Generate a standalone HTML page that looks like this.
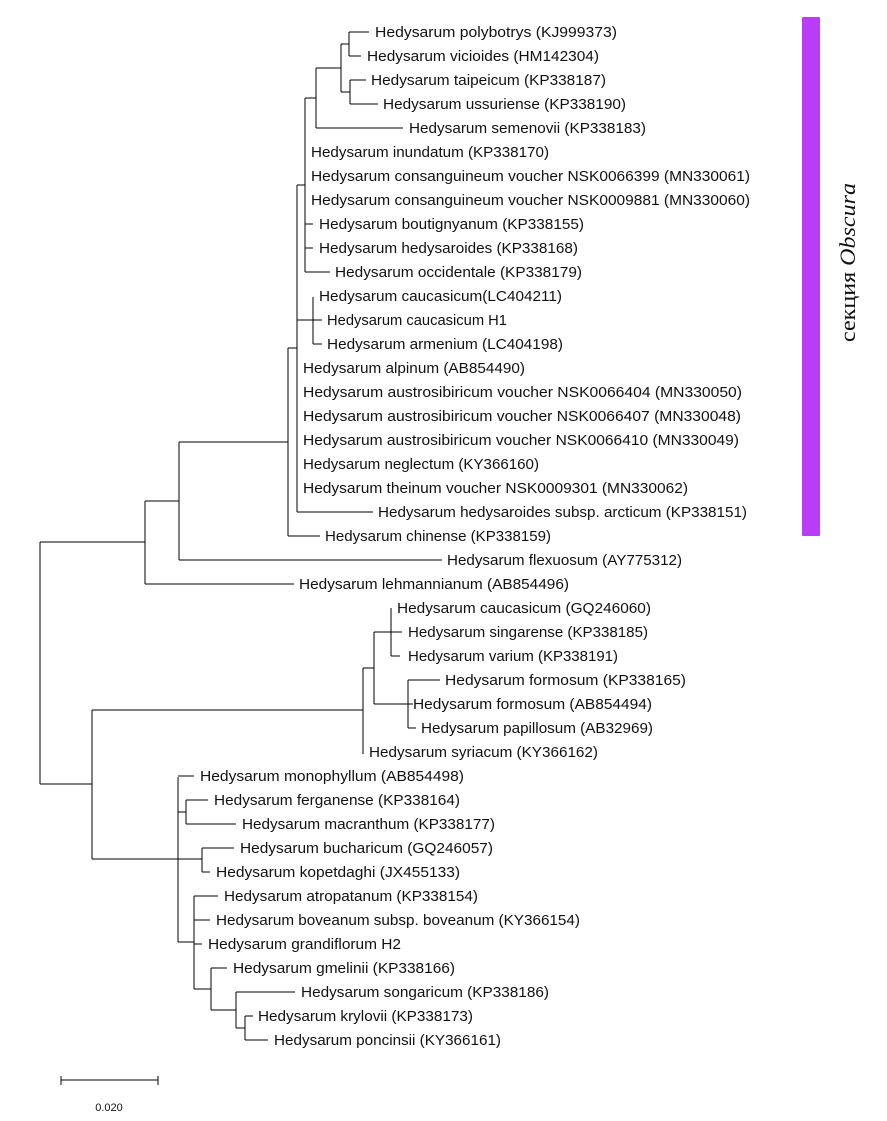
<!DOCTYPE html>
<html><head><meta charset="utf-8"><style>
html,body{margin:0;padding:0;background:#fff;}
svg{display:block;}
text{font-family:"Liberation Sans",Arial,sans-serif;font-size:14.5px;fill:#111;}
</style></head><body>
<svg width="887" height="1121" viewBox="0 0 887 1121" xmlns="http://www.w3.org/2000/svg">
<g stroke="#000" stroke-width="1.2" fill="none" shape-rendering="crispEdges">
<path d="M349 32V56M349 32H369M349 56H361"/>
<path d="M350 80V104M350 80H366M350 104H378"/>
<path d="M341 44V92M341 44H349M341 92H350"/>
<path d="M316 68V128M316 68H341M316 128H403"/>
<path d="M305 98V272M305 98H316M305 224H313M305 248H313M305 272H330"/>
<path d="M313 297V344M313 320H322M313 344H322"/>
<path d="M297 185V512M297 185H305M297 320H313M297 512H373"/>
<path d="M288 348V536M288 348H297M288 536H320"/>
<path d="M179 442V560M179 442H288M179 560H442"/>
<path d="M145 501V584M145 501H179M145 584H294"/>
<path d="M40 542V784M40 542H145M40 784H92"/>
<path d="M92 710V859M92 710H363"/>
<path d="M363 668V754M363 668H374"/>
<path d="M374 632V704M374 632H391M374 704H408"/>
<path d="M391 608V656M391 632H402M391 656H400"/>
<path d="M408 680V728M408 680H440M408 704H413M408 728H416"/>
<path d="M92 859H178M178 777V942M178 776H194M178 812H186M178 859H202M178 942H194"/>
<path d="M186 800V824M186 800H208M186 824H236"/>
<path d="M202 848V872M202 848H234M202 872H210"/>
<path d="M194 896V989M194 896H218M194 920H210M194 944H202M194 989H211"/>
<path d="M211 968V1010M211 968H227M211 1010H236"/>
<path d="M236 992V1028M236 992H295M236 1028H245"/>
<path d="M245 1016V1040M245 1016H253M245 1040H268"/>
<path d="M61 1080H158M61 1076V1085M158 1076V1085"/>
</g>
<g>
<text x="375" y="37" textLength="242" lengthAdjust="spacingAndGlyphs">Hedysarum polybotrys (KJ999373)</text>
<text x="367" y="61" textLength="232" lengthAdjust="spacingAndGlyphs">Hedysarum vicioides (HM142304)</text>
<text x="371" y="85" textLength="235" lengthAdjust="spacingAndGlyphs">Hedysarum taipeicum (KP338187)</text>
<text x="383" y="109" textLength="243" lengthAdjust="spacingAndGlyphs">Hedysarum ussuriense (KP338190)</text>
<text x="409" y="133" textLength="237" lengthAdjust="spacingAndGlyphs">Hedysarum semenovii (KP338183)</text>
<text x="311" y="157" textLength="238" lengthAdjust="spacingAndGlyphs">Hedysarum inundatum (KP338170)</text>
<text x="311" y="181" textLength="439" lengthAdjust="spacingAndGlyphs">Hedysarum consanguineum voucher NSK0066399 (MN330061)</text>
<text x="311" y="205" textLength="439" lengthAdjust="spacingAndGlyphs">Hedysarum consanguineum voucher NSK0009881 (MN330060)</text>
<text x="319" y="229" textLength="265" lengthAdjust="spacingAndGlyphs">Hedysarum boutignyanum (KP338155)</text>
<text x="319" y="253" textLength="259" lengthAdjust="spacingAndGlyphs">Hedysarum hedysaroides (KP338168)</text>
<text x="335" y="277" textLength="247" lengthAdjust="spacingAndGlyphs">Hedysarum occidentale (KP338179)</text>
<text x="319" y="301" textLength="243" lengthAdjust="spacingAndGlyphs">Hedysarum caucasicum(LC404211)</text>
<text x="327" y="325" textLength="180" lengthAdjust="spacingAndGlyphs">Hedysarum caucasicum H1</text>
<text x="327" y="349" textLength="236" lengthAdjust="spacingAndGlyphs">Hedysarum armenium (LC404198)</text>
<text x="303" y="373" textLength="222" lengthAdjust="spacingAndGlyphs">Hedysarum alpinum (AB854490)</text>
<text x="303" y="397" textLength="439" lengthAdjust="spacingAndGlyphs">Hedysarum austrosibiricum voucher NSK0066404 (MN330050)</text>
<text x="303" y="421" textLength="438" lengthAdjust="spacingAndGlyphs">Hedysarum austrosibiricum voucher NSK0066407 (MN330048)</text>
<text x="303" y="445" textLength="436" lengthAdjust="spacingAndGlyphs">Hedysarum austrosibiricum voucher NSK0066410 (MN330049)</text>
<text x="303" y="469" textLength="236" lengthAdjust="spacingAndGlyphs">Hedysarum neglectum (KY366160)</text>
<text x="303" y="493" textLength="385" lengthAdjust="spacingAndGlyphs">Hedysarum theinum voucher NSK0009301 (MN330062)</text>
<text x="378" y="517" textLength="369" lengthAdjust="spacingAndGlyphs">Hedysarum hedysaroides subsp. arcticum (KP338151)</text>
<text x="325" y="541" textLength="226" lengthAdjust="spacingAndGlyphs">Hedysarum chinense (KP338159)</text>
<text x="447" y="565" textLength="235" lengthAdjust="spacingAndGlyphs">Hedysarum flexuosum (AY775312)</text>
<text x="299" y="589" textLength="270" lengthAdjust="spacingAndGlyphs">Hedysarum lehmannianum (AB854496)</text>
<text x="397" y="613" textLength="254" lengthAdjust="spacingAndGlyphs">Hedysarum caucasicum (GQ246060)</text>
<text x="408" y="637" textLength="240" lengthAdjust="spacingAndGlyphs">Hedysarum singarense (KP338185)</text>
<text x="408" y="661" textLength="210" lengthAdjust="spacingAndGlyphs">Hedysarum varium (KP338191)</text>
<text x="445" y="685" textLength="241" lengthAdjust="spacingAndGlyphs">Hedysarum formosum (KP338165)</text>
<text x="413" y="709" textLength="239" lengthAdjust="spacingAndGlyphs">Hedysarum formosum (AB854494)</text>
<text x="421" y="733" textLength="232" lengthAdjust="spacingAndGlyphs">Hedysarum papillosum (AB32969)</text>
<text x="369" y="757" textLength="229" lengthAdjust="spacingAndGlyphs">Hedysarum syriacum (KY366162)</text>
<text x="200" y="781" textLength="264" lengthAdjust="spacingAndGlyphs">Hedysarum monophyllum (AB854498)</text>
<text x="214" y="805" textLength="246" lengthAdjust="spacingAndGlyphs">Hedysarum ferganense (KP338164)</text>
<text x="242" y="829" textLength="253" lengthAdjust="spacingAndGlyphs">Hedysarum macranthum (KP338177)</text>
<text x="240" y="853" textLength="253" lengthAdjust="spacingAndGlyphs">Hedysarum bucharicum (GQ246057)</text>
<text x="216" y="877" textLength="244" lengthAdjust="spacingAndGlyphs">Hedysarum kopetdaghi (JX455133)</text>
<text x="224" y="901" textLength="254" lengthAdjust="spacingAndGlyphs">Hedysarum atropatanum (KP338154)</text>
<text x="216" y="925" textLength="364" lengthAdjust="spacingAndGlyphs">Hedysarum boveanum subsp. boveanum (KY366154)</text>
<text x="208" y="949" textLength="193" lengthAdjust="spacingAndGlyphs">Hedysarum grandiflorum H2</text>
<text x="233" y="973" textLength="222" lengthAdjust="spacingAndGlyphs">Hedysarum gmelinii (KP338166)</text>
<text x="301" y="997" textLength="248" lengthAdjust="spacingAndGlyphs">Hedysarum songaricum (KP338186)</text>
<text x="258" y="1021" textLength="215" lengthAdjust="spacingAndGlyphs">Hedysarum krylovii (KP338173)</text>
<text x="274" y="1045" textLength="227" lengthAdjust="spacingAndGlyphs">Hedysarum poncinsii (KY366161)</text>
<text x="109" y="1111" text-anchor="middle" style="font-size:11px">0.020</text>
</g>
<rect x="802" y="17" width="18" height="519" rx="1" fill="#b93cf6"/>
<text transform="translate(855,342) rotate(-90)" textLength="159" lengthAdjust="spacingAndGlyphs" style="font-family:'Liberation Serif',serif;font-size:22px;fill:#111">секция <tspan font-style="italic">Obscura</tspan></text>
</svg>
</body></html>
